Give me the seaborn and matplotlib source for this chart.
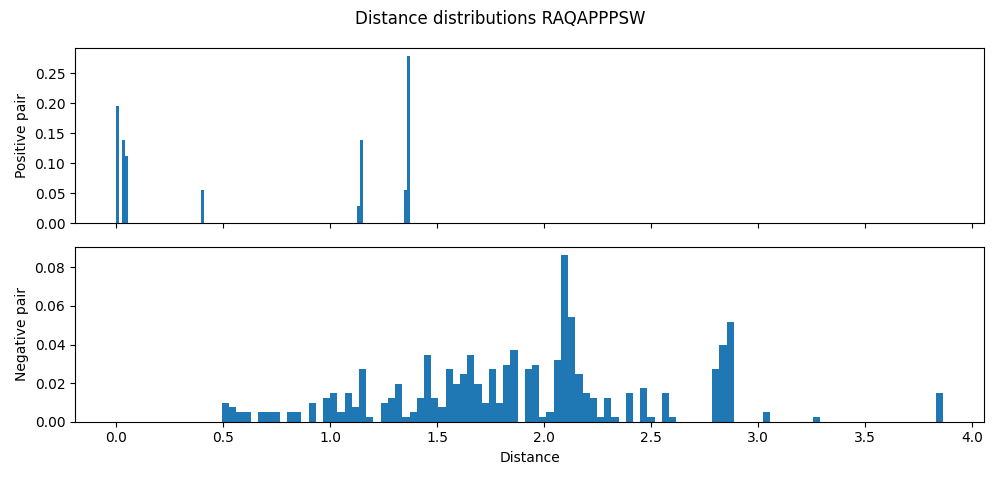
import matplotlib
matplotlib.use("Agg")
import matplotlib.pyplot as plt
import seaborn as sns

# ============================
# Données : distances et effectifs
# ============================
titre = "Distance distributions RAQAPPPSW"

pos_dist = [0.0, 0.032, 0.045, 0.405, 1.132, 1.146, 1.353, 1.372]
pos_count = [7, 5, 4, 2, 1, 5, 2, 10]

neg_dist = [
    0.494, 0.545, 0.578, 0.612, 0.679, 0.713, 0.747, 0.814, 0.848, 0.915,
    0.983, 1.016, 1.050, 1.084, 1.117, 1.151, 1.185, 1.252, 1.286, 1.319,
    1.353, 1.387, 1.420, 1.454, 1.488, 1.522, 1.555, 1.589, 1.623, 1.656,
    1.690, 1.724, 1.757, 1.791, 1.825, 1.858, 1.926, 1.960, 1.993, 2.027,
    2.061, 2.094, 2.128, 2.162, 2.195, 2.229, 2.263, 2.296, 2.330, 2.398,
    2.465, 2.499, 2.566, 2.600, 2.802, 2.835, 2.869, 3.038, 3.273, 3.863,
]
neg_count = [
    4, 3, 2, 2, 2, 2, 2, 2, 2, 4,
    5, 6, 2, 6, 3, 11, 1, 4, 5, 8,
    1, 2, 5, 14, 5, 3, 11, 8, 10, 14,
    8, 4, 11, 4, 12, 15, 11, 12, 1, 2,
    13, 35, 22, 10, 6, 5, 1, 5, 1, 6,
    7, 1, 6, 1, 11, 16, 21, 2, 1, 6,
]

# ============================
# Figure
# ============================
fig, (ax1, ax2) = plt.subplots(2, 1, figsize=(10, 4.8), dpi=100, sharex=True)

sns.histplot(x=pos_dist, weights=pos_count, bins=100, stat="probability",
             color="#1f77b4", alpha=1, linewidth=0, ax=ax1)
sns.histplot(x=neg_dist, weights=neg_count, bins=100, stat="probability",
             color="#1f77b4", alpha=1, linewidth=0, ax=ax2)

ax1.set_ylabel("Positive pair")
ax1.set_xlabel("")
ax2.set_ylabel("Negative pair")
ax2.set_xlabel("Distance")

fig.suptitle(titre)
fig.tight_layout()
fig.savefig("out.png")
